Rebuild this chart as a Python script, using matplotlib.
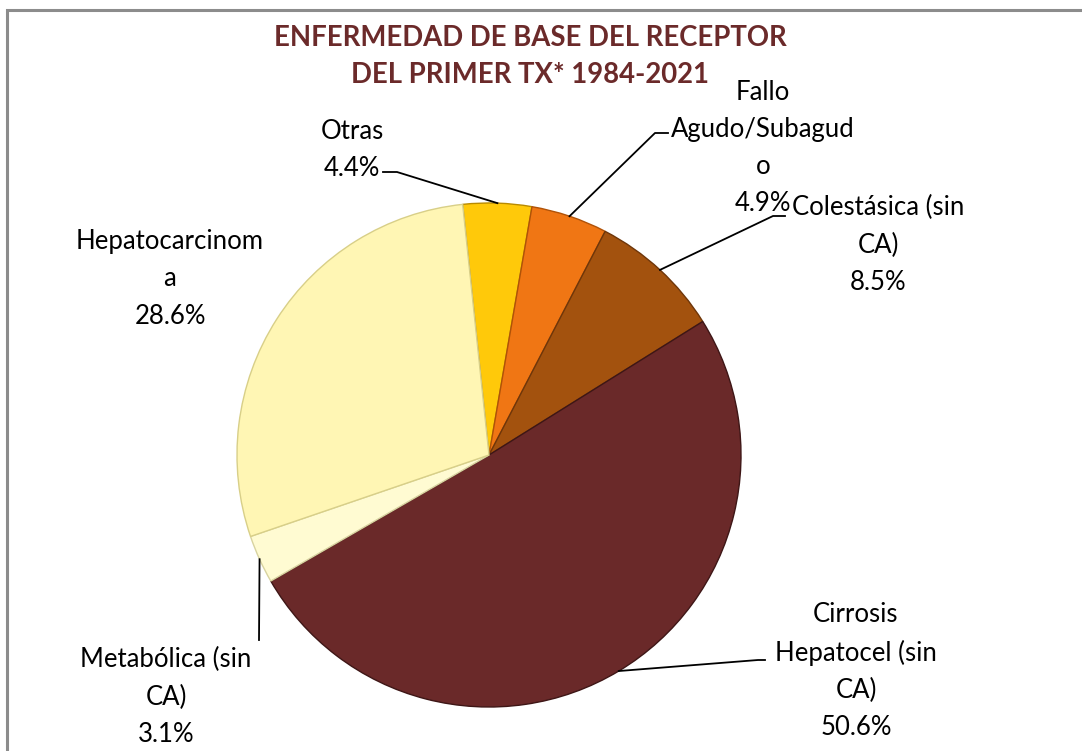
import numpy as np
import matplotlib
matplotlib.use('Agg')
import matplotlib.pyplot as plt
from matplotlib.patches import Rectangle

plt.rcParams['font.family'] = ['Lato', 'DejaVu Sans']

# data
categorias = ['Otras', 'Fallo\nAgudo/Subagud\no', 'Colestásica (sin\nCA)',
              'Cirrosis\nHepatocel (sin\nCA)', 'Metabólica (sin\nCA)', 'Hepatocarcinom\na']
porcentajes = [4.4, 4.9, 8.5, 50.6, 3.1, 28.6]
colores = ['#FFC90A', '#F07614', '#A3520E', '#6A2929', '#FFFBD2', '#FFF6B4']
bordes = ['#B88A00', '#B05208', '#6E360A', '#3E1616', '#D8D3A0', '#D8CF88']

W, H = 1082, 751
fig = plt.figure(figsize=(W / 100, H / 100), dpi=100)
ax = fig.add_axes([0, 0, 1, 1])

# marco gris
fig.patches.append(Rectangle((7 / W, -0.1), 1.2, (H - 10) / H + 0.1, transform=fig.transFigure,
                             fill=False, edgecolor='#8C8C8C', linewidth=2.2))

cx, cy, r = 489, H - 455, 252
start = 96
wedges, _ = ax.pie(porcentajes, colors=colores, startangle=start, counterclock=False,
                   center=(cx, cy), radius=r, frame=True,
                   wedgeprops=dict(linewidth=1.0))
for w, b in zip(wedges, bordes):
    w.set_edgecolor(b)
ax.set_xlim(0, W)
ax.set_ylim(0, H)
ax.set_aspect('equal')
ax.axis('off')

# posiciones de etiquetas (px) y colas de las líneas guía
pos_texto = [(352, 150), (763, 148), (878, 245), (856, 671), (166, 697), (170, 279)]
colas = [[(383, 172), (397, 172)],
         [(668, 133), (655, 133)],
         [(785, 216), (773, 216)],
         [(765, 660), (758, 660)],
         [(259, 640)],
         None]

total = sum(porcentajes)
acum = 0
for i, (nombre, p) in enumerate(zip(categorias, porcentajes)):
    ang = np.deg2rad(start - 360 * (acum + p / 2) / total)
    acum += p
    tx, ty = pos_texto[i]
    ax.text(tx, H - ty, f'{nombre}\n{p:.1f}%', ha='center', va='center',
            fontsize=18.5, color='black', linespacing=1.6)
    if colas[i] is not None:
        ex, ey = cx + r * np.cos(ang), cy + r * np.sin(ang)
        xs = [c[0] for c in colas[i]] + [ex]
        ys = [H - c[1] for c in colas[i]] + [ey]
        ax.plot(xs, ys, color='black', linewidth=1.3)

ax.text(530, H - 38, 'ENFERMEDAD DE BASE DEL RECEPTOR', ha='center', va='center',
        fontsize=19.8, fontweight='bold', color='#6B2A2A')
ax.text(530, H - 75, 'DEL PRIMER TX* 1984-2021', ha='center', va='center',
        fontsize=19.8, fontweight='bold', color='#6B2A2A')

fig.savefig('out.png', dpi=100)
